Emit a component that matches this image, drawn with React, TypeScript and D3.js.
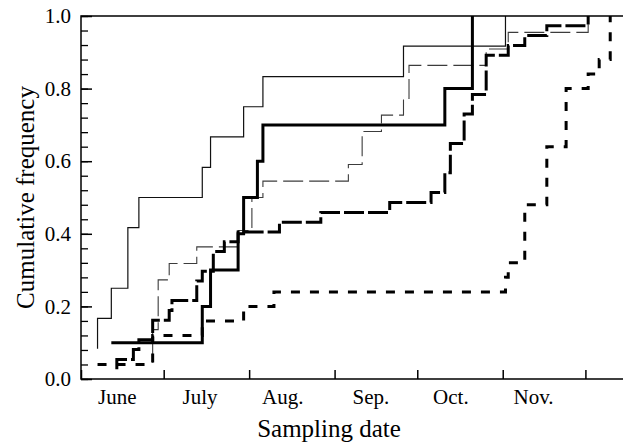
import React, { useRef, useEffect } from "react";
import * as d3 from "d3";

// sampling dates are month-day strings, all in one season
const YEAR = "2001";

const monthStarts = ["06-01", "07-01", "08-01", "09-01", "10-01", "11-01", "12-01"];
const monthLabels = ["June", "July", "Aug.", "Sep.", "Oct.", "Nov."];
const monthLabelDates = ["06-14", "07-14", "08-13", "09-14", "10-13", "11-12"];
const dateDomain = ["06-01", "12-15"];

const yMajorTicks = [0, 0.2, 0.4, 0.6, 0.8, 1.0];

// cumulative frequency per series: [date, value]
const thinSolid: [string, number][] = [
  ["06-07", 0.083], ["06-07", 0.167], ["06-12", 0.25], ["06-18", 0.417],
  ["06-22", 0.5], ["07-15", 0.583], ["07-18", 0.667], ["07-30", 0.75],
  ["08-06", 0.833], ["09-26", 0.917], ["11-02", 1.0],
];

const thickSolid: [string, number][] = [
  ["06-12", 0.1], ["07-15", 0.2], ["07-18", 0.3], ["07-28", 0.4],
  ["07-30", 0.5], ["08-04", 0.6], ["08-06", 0.7], ["10-11", 0.8],
  ["10-21", 0.9], ["10-21", 1.0],
];

const thinDashed: [string, number][] = [
  ["06-27", 0.045], ["06-27", 0.136], ["06-29", 0.273], ["07-03", 0.318],
  ["07-13", 0.364], ["07-28", 0.409], ["08-02", 0.5], ["08-06", 0.545],
  ["09-06", 0.591], ["09-11", 0.682], ["09-18", 0.727], ["09-26", 0.773],
  ["09-28", 0.864], ["10-26", 0.909], ["11-03", 0.955], ["12-02", 1.0],
];

const thickDashed: [string, number][] = [
  ["06-14", 0.027], ["06-14", 0.054], ["06-20", 0.081], ["06-22", 0.108],
  ["06-27", 0.162], ["07-03", 0.189], ["07-04", 0.216], ["07-13", 0.27],
  ["07-15", 0.297], ["07-19", 0.351], ["07-23", 0.378], ["07-28", 0.405],
  ["08-12", 0.432], ["08-27", 0.459], ["09-21", 0.486], ["10-06", 0.514],
  ["10-11", 0.568], ["10-13", 0.649], ["10-18", 0.73], ["10-21", 0.784],
  ["10-26", 0.892], ["11-03", 0.919], ["11-09", 0.946], ["11-17", 0.973],
  ["12-02", 1.0],
];

const shortDashed: [string, number][] = [
  ["06-07", 0.04], ["06-27", 0.12], ["07-15", 0.16], ["07-30", 0.2],
  ["08-10", 0.24], ["11-02", 0.28], ["11-03", 0.32], ["11-09", 0.48],
  ["11-17", 0.64], ["11-24", 0.8], ["12-02", 0.84], ["12-06", 0.88],
  ["12-10", 1.0],
];

const seriesList = [
  { data: thinDashed, stroke: "#3c3c3c", width: 1.1, dash: "20,6" },
  { data: thinSolid, stroke: "#111", width: 1.2, dash: "none" },
  { data: shortDashed, stroke: "#000", width: 3, dash: "9,10" },
  { data: thickDashed, stroke: "#000", width: 3, dash: "20,4" },
  { data: thickSolid, stroke: "#000", width: 3, dash: "none" },
];

const FONT = "'Liberation Serif', 'Times New Roman', serif";

const App: React.FC = () => {
  const svgRef = useRef<SVGSVGElement>(null);

  useEffect(() => {
    if (!svgRef.current) return;
    const svg = d3.select(svgRef.current);
    svg.selectAll("*").remove();

    const width = 623;
    const height = 446;
    const margin = { top: 16, right: 0, bottom: 67, left: 81 };
    const bottom = height - margin.bottom;

    const parse = d3.timeParse("%Y-%m-%d");
    const toDate = (s: string) => parse(`${YEAR}-${s}`)!;

    const x = d3
      .scaleTime()
      .domain(dateDomain.map(toDate))
      .range([margin.left, width + 1]);

    const y = d3.scaleLinear().domain([0, 1]).range([bottom, margin.top]);

    // series
    const line = d3
      .line<[string, number]>()
      .x((d) => x(toDate(d[0])))
      .y((d) => y(d[1]))
      .curve(d3.curveStepAfter);

    seriesList.forEach((s) => {
      svg
        .append("path")
        .datum(s.data)
        .attr("fill", "none")
        .attr("stroke", s.stroke)
        .attr("stroke-width", s.width)
        .attr("stroke-dasharray", s.dash)
        .attr("d", line);
    });

    // frame: top, left, bottom
    svg
      .append("path")
      .attr("d", `M${width},${margin.top}H${margin.left}V${bottom}H${width}`)
      .attr("fill", "none")
      .attr("stroke", "#000")
      .attr("stroke-width", 1.5);

    // x ticks at month boundaries
    svg
      .append("g")
      .attr("transform", `translate(0,${bottom})`)
      .call(
        d3
          .axisBottom(x)
          .tickValues(monthStarts.map(toDate))
          .tickSize(-9)
          .tickFormat(() => "")
      )
      .call((g) => g.select(".domain").remove())
      .call((g) => g.selectAll("line").attr("stroke-width", 1.5));

    // month labels
    svg
      .append("g")
      .attr("transform", `translate(0,${bottom})`)
      .call(
        d3
          .axisBottom(x)
          .tickValues(monthLabelDates.map(toDate))
          .tickSize(0)
          .tickPadding(10)
          .tickFormat((_, i) => monthLabels[i])
      )
      .attr("font-family", FONT)
      .attr("font-size", 21)
      .call((g) => g.select(".domain").remove())
      .call((g) => g.selectAll("text").attr("fill", "#000"));

    // y minor ticks
    svg
      .append("g")
      .attr("transform", `translate(${margin.left},0)`)
      .call(
        d3
          .axisLeft(y)
          .tickValues(d3.range(0, 1.0001, 0.04))
          .tickSize(-7)
          .tickFormat(() => "")
      )
      .call((g) => g.select(".domain").remove())
      .call((g) => g.selectAll("line").attr("stroke-width", 1.3));

    // y major ticks + labels
    svg
      .append("g")
      .attr("transform", `translate(${margin.left},0)`)
      .call(
        d3
          .axisLeft(y)
          .tickValues(yMajorTicks)
          .tickSize(-11)
          .tickPadding(10)
          .tickFormat(d3.format(".1f"))
      )
      .attr("font-family", FONT)
      .attr("font-size", 21)
      .call((g) => g.select(".domain").remove())
      .call((g) => g.selectAll("line").attr("stroke-width", 1.5))
      .call((g) => g.selectAll("text").attr("fill", "#000"));

    // axis titles
    svg
      .append("text")
      .attr("x", 329)
      .attr("y", 437)
      .attr("text-anchor", "middle")
      .attr("font-family", FONT)
      .attr("font-size", 25)
      .text("Sampling date");

    svg
      .append("text")
      .attr("transform", `translate(25,${(margin.top + bottom) / 2}) rotate(-90)`)
      .attr("text-anchor", "middle")
      .attr("dy", "0.35em")
      .attr("font-family", FONT)
      .attr("font-size", 25)
      .text("Cumulative frequency");
  }, []);

  return (
    <svg
      ref={svgRef}
      width={623}
      height={446}
      style={{ position: "absolute", left: 0, top: 0, background: "#fff" }}
    ></svg>
  );
};

export default App;
